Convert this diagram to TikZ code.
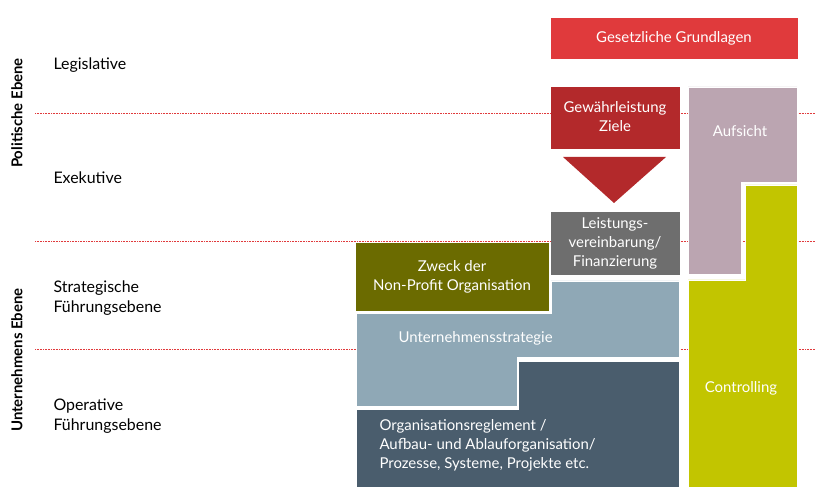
\documentclass[tikz,border=0pt]{standalone}
\usepackage{fontspec}
\setmainfont{Lato}
\definecolor{gesetzred}{HTML}{E03A3C}
\definecolor{zielred}{HTML}{B3292B}
\definecolor{leistgrey}{HTML}{6E6E6E}
\definecolor{zweckolive}{HTML}{6B6B00}
\definecolor{stratblue}{HTML}{8FA8B6}
\definecolor{orgslate}{HTML}{4A5D6D}
\definecolor{aufsichtmauve}{HTML}{BBA5B1}
\definecolor{controlgreen}{HTML}{C2C500}
\tikzset{
  block/.style={draw=white,line width=0.8pt},
  blocktext/.style={text=white,font=\fontsize{15}{19}\selectfont,align=center},
  leveltext/.style={anchor=west,align=left,font=\fontsize{16}{20}\selectfont},
  ebene/.style={rotate=90,font=\bfseries\fontsize{15}{18}\selectfont}
}
\begin{document}
\begin{tikzpicture}[x=1bp,y=-1bp]
  \useasboundingbox (0,0) rectangle (827,495);
  % level borders
  \foreach \y in {113,241,349}
    \draw[gesetzred,densely dotted,line width=0.6pt] (35,\y) -- (816,\y);

  % blocks
  \fill[block,gesetzred] (551,18) rectangle (797,58);
  \node[blocktext] (gesetz) at (674,38) {Gesetzliche Grundlagen};
  \fill[block,zielred] (551,87) rectangle (679,148);
  \node[blocktext] (ziele) at (615,117) {Gewährleistung\\Ziele};
  \fill[zielred] (563,157) -- (666,157) -- (614,203) -- cycle;
  \fill[block,leistgrey] (551,212) rectangle (679,274);
  \node[blocktext] (leistung) at (615,243) {Leistungs-\\vereinbarung/\\Finanzierung};
  \fill[block,zweckolive] (356,243) rectangle (548,310);
  \node[blocktext] (zweck) at (452,277) {Zweck der\\Non-Profit Organisation};
  \filldraw[block,fill=stratblue] (356,313) -- (551,313) -- (551,281) -- (679,281)
    -- (679,357) -- (517,357) -- (517,406) -- (356,406) -- cycle;
  \node[blocktext,anchor=west] (strategie) at (395,338) {Unternehmensstrategie};
  \filldraw[block,fill=orgslate] (518,361) -- (679,361) -- (679,487) -- (356,487)
    -- (356,409) -- (518,409) -- cycle;
  \node[blocktext,anchor=west,align=left] (reglement) at (376,445)
    {Organisationsreglement /\\Aufbau- und Ablauforganisation/\\Prozesse, Systeme, Projekte etc.};
  \filldraw[block,fill=aufsichtmauve] (688,87) -- (797,87) -- (797,182) -- (741,182)
    -- (741,274) -- (688,274) -- cycle;
  \node[blocktext] (aufsicht) at (740,131) {Aufsicht};
  \filldraw[block,fill=controlgreen] (745,185) -- (797,185) -- (797,487) -- (688,487)
    -- (688,280) -- (745,280) -- cycle;
  \node[blocktext] (controlling) at (741,388) {Controlling};

  % levels
  \node[leveltext] (legislative) at (50,65) {Legislative};
  \node[leveltext] (exekutive) at (50,178) {Exekutive};
  \node[leveltext] (strategisch) at (50,298) {Strategische\\Führungsebene};
  \node[leveltext] (operativ) at (50,416) {Operative\\Führungsebene};
  \node[ebene] (politisch) at (17,113) {Politische Ebene};
  \node[ebene] (unternehmen) at (17,360) {Unternehmens Ebene};
\end{tikzpicture}
\end{document}
